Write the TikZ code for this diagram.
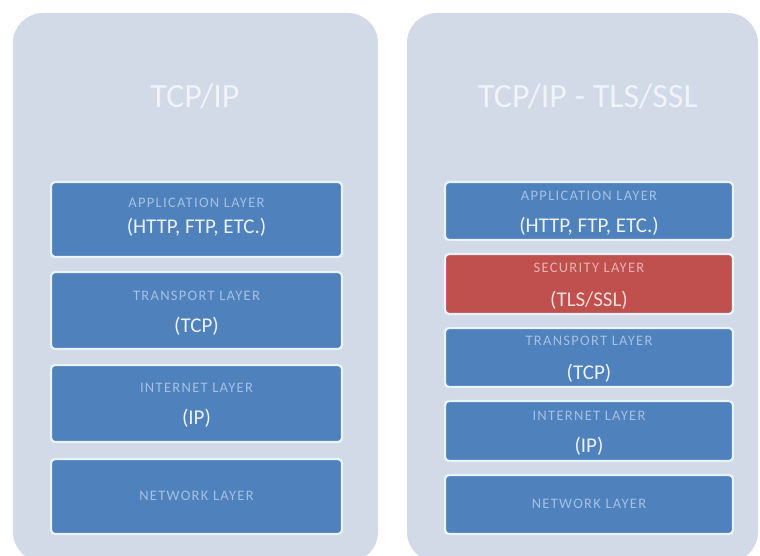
\documentclass[tikz,border=0pt]{standalone}
\usepackage{fontspec}
\setmainfont{Carlito}
\definecolor{panelgrey}{RGB}{210,217,231}
\definecolor{layerblue}{RGB}{79,129,189}
\definecolor{layerred}{RGB}{192,80,77}
\definecolor{rimcol}{RGB}{232,243,250}
\definecolor{titlecol}{RGB}{240,243,249}
\definecolor{tagblue}{RGB}{164,192,226}
\definecolor{tagred}{RGB}{232,178,176}
\definecolor{mainblue}{RGB}{236,242,250}
\definecolor{mainred}{RGB}{247,222,220}
\tikzset{
  panel/.style={fill=panelgrey, draw=none, rounded corners=30pt},
  layer/.style={draw=rimcol, line width=2.2pt, rounded corners=4pt, inner sep=0pt},
  bluelayer/.style={layer, fill=layerblue},
  redlayer/.style={layer, fill=layerred},
  title/.style={text=titlecol, font=\fontsize{34}{40}\selectfont, inner sep=0pt},
  tag/.style={font=\fontsize{14.5}{16}\selectfont\addfontfeature{LetterSpace=9}, inner sep=0pt},
  main/.style={font=\fontsize{21}{24}\selectfont, inner sep=0pt},
}
\begin{document}
\begin{tikzpicture}[x=1pt, y=-1pt]
  \useasboundingbox (0,0) rectangle (760,556);
  \fill[white] (0,0) rectangle (760,556);
  \begin{scope}
    \clip (0,0) rectangle (760,556);
    % the two grey stacks
    \path[panel] (13,13) rectangle (378,562);
    \path[panel] (407,13) rectangle (758,562);
  \end{scope}

  % --- plain TCP/IP stack ---
  \node[title] (t1) at (195,96) {TCP/IP};
  \path[bluelayer] (51,182) rectangle (342,257);
  \node[tag, text=tagblue] (a1) at (196.5,203) {APPLICATION LAYER};
  \node[main, text=mainblue] (a1b) at (196.5,227) {(HTTP, FTP, ETC.)};
  \path[bluelayer] (51,272) rectangle (342,349);
  \node[tag, text=tagblue] (tr1) at (196.5,296) {TRANSPORT LAYER};
  \node[main, text=mainblue] (tr1b) at (196.5,326) {(TCP)};
  \path[bluelayer] (51,365) rectangle (342,442);
  \node[tag, text=tagblue] (in1) at (196.5,388) {INTERNET LAYER};
  \node[main, text=mainblue] (in1b) at (196.5,418) {(IP)};
  \path[bluelayer] (51,459) rectangle (342,534);
  \node[tag, text=tagblue] (nw1) at (196.5,496) {NETWORK LAYER};

  % --- TCP/IP with the TLS/SSL layer ---
  \node[title] (t2) at (588,96) {TCP/IP - TLS/SSL};
  \path[bluelayer] (445,182) rectangle (733,240);
  \node[tag, text=tagblue] (a2) at (589,196) {APPLICATION LAYER};
  \node[main, text=mainblue] (a2b) at (589,226) {(HTTP, FTP, ETC.)};
  \path[redlayer] (445,254) rectangle (733,314);
  \node[tag, text=tagred] (s2) at (589,268) {SECURITY LAYER};
  \node[main, text=mainred] (s2b) at (589,300) {(TLS/SSL)};
  \path[bluelayer] (445,328) rectangle (733,387);
  \node[tag, text=tagblue] (tr2) at (589,341) {TRANSPORT LAYER};
  \node[main, text=mainblue] (tr2b) at (589,373) {(TCP)};
  \path[bluelayer] (445,401) rectangle (733,461);
  \node[tag, text=tagblue] (in2) at (589,416) {INTERNET LAYER};
  \node[main, text=mainblue] (in2b) at (589,446) {(IP)};
  \path[bluelayer] (445,475) rectangle (733,534);
  \node[tag, text=tagblue] (nw2) at (589,504) {NETWORK LAYER};
\end{tikzpicture}
\end{document}
